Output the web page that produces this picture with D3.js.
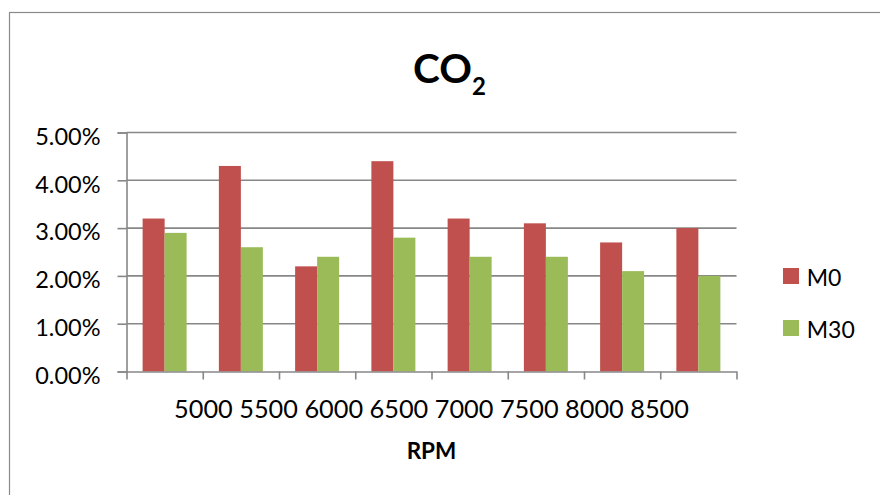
<!DOCTYPE html>
<html>
<head>
<meta charset="utf-8">
<script src="https://cdn.jsdelivr.net/npm/d3@7"></script>
<style>
  html, body { margin: 0; padding: 0; background: #fff; }
  svg { display: block; }
  text { font-family: Lato, "Open Sans", sans-serif; fill: #000; }
</style>
</head>
<body>
<svg id="chart" width="880" height="495"></svg>
<script>
const categories = ["5000", "5500", "6000", "6500", "7000", "7500", "8000", "8500"];
const seriesNames = ["M0", "M30"];
const m0Values = [0.032, 0.043, 0.022, 0.044, 0.032, 0.031, 0.027, 0.030];
const m30Values = [0.029, 0.026, 0.024, 0.028, 0.024, 0.024, 0.021, 0.020];
const yTicks = [0, 0.01, 0.02, 0.03, 0.04, 0.05];
const colors = ["#C0504D", "#9BBB59"];
const titleMain = "CO";
const titleSub = "2";
const xTitle = "RPM";

const seriesValues = [m0Values, m30Values];
const svg = d3.select("#chart");
const gridColor = "#878787";

// outer chart border
svg.append("rect")
  .attr("x", 9.5).attr("y", 12.5)
  .attr("width", 900).attr("height", 520)
  .attr("fill", "none").attr("stroke", "#8a8a8a").attr("stroke-width", 1.2);

const pLeft = 126.5, pRight = 736.5, pTop = 132.5, pBottom = 371.5;

const y = d3.scaleLinear().domain([0, 0.05]).range([pBottom, pTop]);
const x = d3.scaleBand().domain(categories).range([pLeft, pRight])
  .paddingInner(0.423).paddingOuter(0.2115);
const xs = d3.scaleBand().domain(seriesNames).range([0, x.bandwidth()]);
const xEdge = d3.scaleLinear().domain([0, categories.length]).range([pLeft, pRight]);

// gridlines
svg.append("g").selectAll("line")
  .data(yTicks.filter(d => d > 0))
  .join("line")
  .attr("x1", pLeft).attr("x2", pRight)
  .attr("y1", d => y(d)).attr("y2", d => y(d))
  .attr("stroke", gridColor).attr("stroke-width", 1.6);

// bars
const groups = svg.append("g").selectAll("g")
  .data(seriesNames)
  .join("g")
  .attr("fill", (d, i) => colors[i]);
groups.selectAll("rect")
  .data((s, i) => categories.map((c, j) => ({ c, s, v: seriesValues[i][j] })))
  .join("rect")
  .attr("x", d => x(d.c) + xs(d.s))
  .attr("width", xs.bandwidth())
  .attr("y", d => y(d.v))
  .attr("height", d => y(0) - y(d.v));

// y axis
const yAxis = svg.append("g")
  .attr("transform", `translate(${pLeft},0)`)
  .call(d3.axisLeft(y).tickValues(yTicks).tickFormat(d3.format(".2%")).tickSize(9).tickPadding(17));
yAxis.select(".domain").attr("stroke", gridColor).attr("stroke-width", 1.6);
yAxis.selectAll(".tick line").attr("stroke", gridColor).attr("stroke-width", 1.6);
yAxis.selectAll(".tick text")
  .attr("font-family", "Lato, sans-serif").attr("font-size", 23.5).attr("fill", "#000")
  .attr("dy", "0.5em");

// x axis (tick marks at category boundaries)
const xAxis = svg.append("g")
  .attr("transform", `translate(0,${pBottom})`)
  .call(d3.axisBottom(xEdge).tickValues(d3.range(categories.length + 1)).tickFormat("").tickSize(8).tickSizeOuter(0));
xAxis.select(".domain").attr("stroke", gridColor).attr("stroke-width", 1.6);
xAxis.selectAll(".tick line").attr("stroke", gridColor).attr("stroke-width", 1.6);

// category labels
svg.append("text")
  .attr("x", (pLeft + pRight) / 2).attr("y", 418.3)
  .attr("text-anchor", "middle").attr("font-size", 25.3)
  .text(categories.join(" "));

// x title
svg.append("text")
  .attr("x", 431.5).attr("y", 459.3)
  .attr("text-anchor", "middle").attr("font-size", 22.5).attr("font-weight", "bold")
  .text(xTitle);

// title
const t = svg.append("text")
  .attr("x", 449.5).attr("y", 83.3)
  .attr("text-anchor", "middle").attr("font-size", 40.5).attr("font-weight", "bold");
t.append("tspan").text(titleMain);
t.append("tspan").attr("font-size", 24).attr("dy", 11.7).text(titleSub);

// legend
const legend = svg.append("g").selectAll("g")
  .data(seriesNames)
  .join("g")
  .attr("transform", (d, i) => `translate(783,${268 + i * 52})`);
legend.append("rect").attr("width", 16).attr("height", 16).attr("fill", (d, i) => colors[i]);
legend.append("text").attr("x", 23.7).attr("y", 18).attr("font-size", 23).text(d => d);
</script>
</body>
</html>
